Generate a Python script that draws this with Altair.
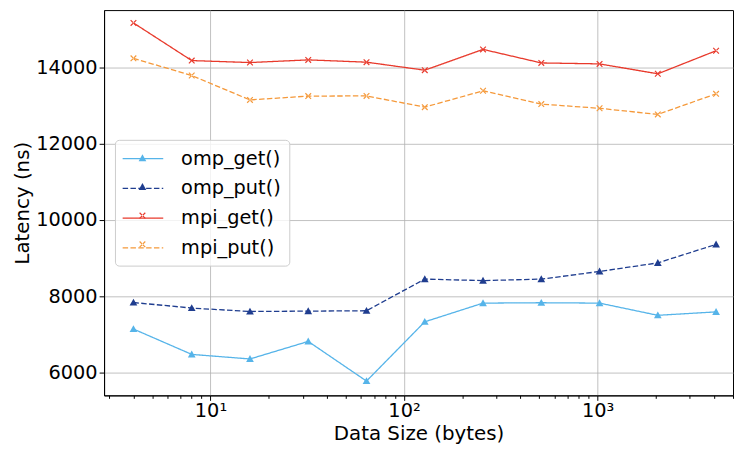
import altair as alt
import pandas as pd

sizes = [4, 8, 16, 32, 64, 128, 256, 512, 1024, 2048, 4096]
series_names = ["omp_get()", "omp_put()", "mpi_get()", "mpi_put()"]
omp_get = [7140, 6475, 6355, 6815, 5775, 7330, 7820, 7830, 7820, 7500, 7590]
omp_put = [7836, 7690, 7600, 7610, 7620, 8450, 8410, 8450, 8650, 8875, 9360]
mpi_get = [15169, 14182, 14130, 14200, 14140, 13930, 14475, 14120, 14095, 13835, 14440]
mpi_put = [14240, 13790, 13150, 13250, 13255, 12960, 13390, 13040, 12930, 12770, 13310]
colors = ["#56B4E9", "#1F3D8F", "#E8392B", "#F5993A"]
dashes = [[1, 0], [5.5, 2.4], [1, 0], [5.5, 2.4]]
tri = "M0,-0.38L0.38,0.3L-0.38,0.3Z"
cross = ("M-0.24,-0.32L0.32,0.24L0.24,0.32L-0.32,-0.24Z"
         "M-0.24,0.32L0.32,-0.24L0.24,-0.32L-0.32,0.24Z")
shapes = [tri, tri, cross, cross]
y_ticks = [6000, 8000, 10000, 12000, 14000]
x_ticks = [3, 4, 5, 6, 7, 8, 9, 10, 20, 30, 40, 50, 60, 70, 80, 90,
           100, 200, 300, 400, 500, 600, 700, 800, 900,
           1000, 2000, 3000, 4000, 5000]

rows = []
for name, vals in zip(series_names, [omp_get, omp_put, mpi_get, mpi_put]):
    for s, v in zip(sizes, vals):
        rows.append({"size": s, "latency": v, "series": name})
df = pd.DataFrame(rows)

FONT = "DejaVu Sans"
FS = 19.5
major = "datum.value == 10 || datum.value == 100 || datum.value == 1000"

x_enc = alt.X(
    "size:Q",
    scale=alt.Scale(type="log", domain=[2.82, 5010], nice=False),
    axis=alt.Axis(
        title="Data Size (bytes)",
        values=x_ticks,
        labelExpr="datum.value == 10 ? '10¹' : datum.value == 100 ? '10²' : datum.value == 1000 ? '10³' : ''",
        tickSize={"condition": {"test": major, "value": 5}, "value": 3},
        gridOpacity={"condition": {"test": major, "value": 1}, "value": 0},
        labelOverlap=False, labelPadding=1, titlePadding=4,
        labelFont=FONT, labelFontSize=FS,
    ),
)
y_enc = alt.Y(
    "latency:Q",
    scale=alt.Scale(domain=[5400, 15506], nice=False, zero=False),
    axis=alt.Axis(title="Latency (ns)", values=y_ticks, tickSize=5, format="d",
                  labelPadding=2, titlePadding=3, labelFont=FONT, labelFontSize=FS),
)

LX, LY = 11, 131
common_legend = dict(
    title=None, orient="none", legendX=LX, legendY=LY,
    symbolSize=420, labelFontSize=FS, labelFont=FONT, labelColor="#000000",
    padding=8, rowPadding=9, labelOffset=27.5, symbolOffset=9.25,
)
legend_a = dict(symbolType="M-2,0H2", symbolStrokeWidth=1.3,
                fillColor="rgba(255,255,255,0.8)", strokeColor="#cccccc",
                cornerRadius=4, zindex=1, **common_legend)

lines = alt.Chart(df).mark_line(strokeWidth=1.3).encode(
    x=x_enc,
    y=y_enc,
    color=alt.Color(
        "series:N",
        sort=series_names,
        scale=alt.Scale(domain=series_names, range=colors),
        legend=alt.Legend(**legend_a),
    ),
    strokeDash=alt.StrokeDash(
        "series:N",
        sort=series_names,
        scale=alt.Scale(domain=series_names, range=dashes),
        legend=alt.Legend(**legend_a),
    ),
)

legend_b = alt.Legend(symbolStrokeWidth=0, labelExpr="''", zindex=2, **common_legend)

points = alt.Chart(df).transform_calculate(series2="datum.series").mark_point(
    filled=True, size=420, strokeWidth=0, opacity=1
).encode(
    x=x_enc,
    y=y_enc,
    color=alt.Color("series2:N", sort=series_names,
                    scale=alt.Scale(domain=series_names, range=colors), legend=legend_b),
    shape=alt.Shape("series2:N", sort=series_names,
                    scale=alt.Scale(domain=series_names, range=shapes), legend=legend_b),
)

chart = alt.layer(lines, points).resolve_scale(
    color="independent", shape="independent", strokeDash="independent"
).resolve_legend(
    color="independent", shape="independent", strokeDash="independent"
).properties(
    width=733, height=438,
    autosize=alt.AutoSizeParams(type="fit", contains="padding"),
    padding={"left": 4, "top": 0, "right": 0, "bottom": 0},
).configure(font=FONT).configure_axis(
    labelFont=FONT, titleFont=FONT, labelFontSize=FS, titleFontSize=20,
    labelColor="#000000", titleColor="#000000", titleFontWeight="normal",
    gridColor="#b0b0b0", gridWidth=0.8, domainColor="#000000", tickColor="#000000",
).configure_legend(labelFont=FONT, labelFontSize=FS).configure_view(
    stroke="#000000", strokeWidth=1
)

chart.save("out.html", embed_options={"renderer": "svg", "actions": False})
